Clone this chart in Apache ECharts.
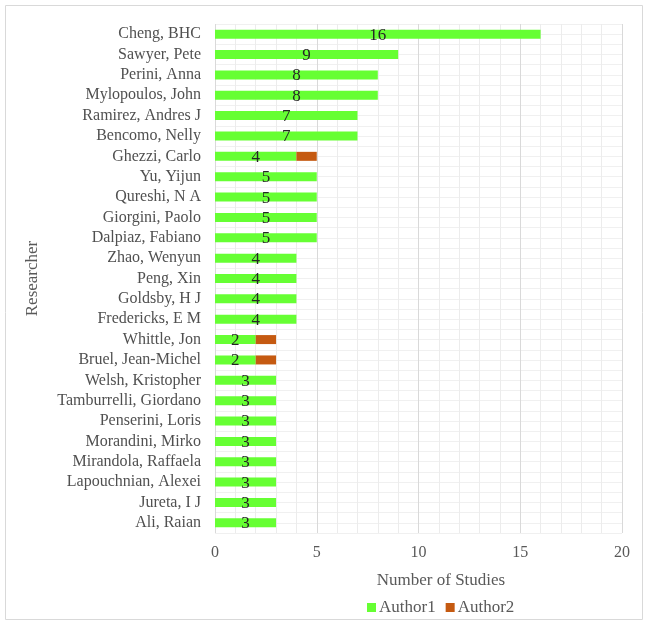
<!DOCTYPE html>
<html><head><meta charset="utf-8">
<script src="https://cdn.jsdelivr.net/npm/echarts@6/dist/echarts.min.js"></script>
<style>html,body{margin:0;padding:0;background:#fff}#c{width:649px;height:625px}</style>
</head><body><div id="c"></div>
<script>
const researchers = ["Cheng, BHC","Sawyer, Pete","Perini, Anna","Mylopoulos, John","Ramirez, Andres J","Bencomo, Nelly","Ghezzi, Carlo","Yu, Yijun","Qureshi, N A","Giorgini, Paolo","Dalpiaz, Fabiano","Zhao, Wenyun","Peng, Xin","Goldsby, H J","Fredericks, E M","Whittle, Jon","Bruel, Jean-Michel","Welsh, Kristopher","Tamburrelli, Giordano","Penserini, Loris","Morandini, Mirko","Mirandola, Raffaela","Lapouchnian, Alexei","Jureta, I J","Ali, Raian"];
const author1 = [16,9,8,8,7,7,4,5,5,5,5,4,4,4,4,2,2,3,3,3,3,3,3,3,3];
const author2 = [0,0,0,0,0,0,1,0,0,0,0,0,0,0,0,1,1,0,0,0,0,0,0,0,0];
const xTicks = [0,5,10,15,20];

const font = "Liberation Serif";
const chart = echarts.init(document.getElementById('c'), null, {renderer:'canvas'});
chart.setOption({
  animation:false,
  textStyle:{fontFamily:font},
  grid:{left:215,right:27,top:24,bottom:92,containLabel:false},
  xAxis:{type:'value',min:xTicks[0],max:xTicks[xTicks.length-1],interval:5,
    axisLine:{show:false},axisTick:{show:false},
    axisLabel:{color:'#595959',fontSize:16,fontFamily:font,margin:12},
    splitLine:{show:true,lineStyle:{color:'#d9d9d9',width:1}},
    minorTick:{show:false,splitNumber:5},
    minorSplitLine:{show:true,lineStyle:{color:'#ececec',width:1}}
  },
  yAxis:[{type:'category',data:researchers,inverse:true,
    axisLine:{show:false},axisTick:{show:false},
    axisLabel:{interval:0,hideOverlap:false,color:'#505050',fontSize:16,fontFamily:font,margin:14},
    splitLine:{show:false},
    name:'Researcher',nameLocation:'middle',nameGap:174,nameRotate:90,
    nameTextStyle:{color:'#595959',fontSize:17,fontFamily:font}
  },{type:'value',min:0,max:50,interval:1,show:true,
    axisLine:{show:false},axisTick:{show:false},axisLabel:{show:false},
    splitLine:{show:true,lineStyle:{color:'#f0f0f0',width:1}}
  }],
  legend:{bottom:4,left:362,itemWidth:9,itemHeight:9,itemGap:10,icon:'rect',
    textStyle:{color:'#595959',fontSize:17,fontFamily:font,padding:[0,0,0,-2]},
    data:['Author1','Author2']},
  graphic:[
    {type:'rect',shape:{x:5.5,y:5.5,width:637,height:614},style:{fill:null,stroke:'#d9d9d9',lineWidth:1},silent:true,z:-10},
    {type:'text',x:441,y:581,style:{text:'Number of Studies',fill:'#595959',fontSize:17,fontFamily:font,align:'center',verticalAlign:'middle'},z:10}
  ],
  series:[
    {name:'Author1',type:'bar',stack:'a',data:author1,barWidth:9,yAxisIndex:0,
      itemStyle:{color:'#66FF33'},
      label:{show:true,position:'inside',color:'#262626',fontSize:17,fontFamily:font,offset:[0,1]}},
    {name:'Author2',type:'bar',stack:'a',data:author2,barWidth:9,yAxisIndex:0,
      itemStyle:{color:'#C55A11'}}
  ]
});
</script></body></html>
